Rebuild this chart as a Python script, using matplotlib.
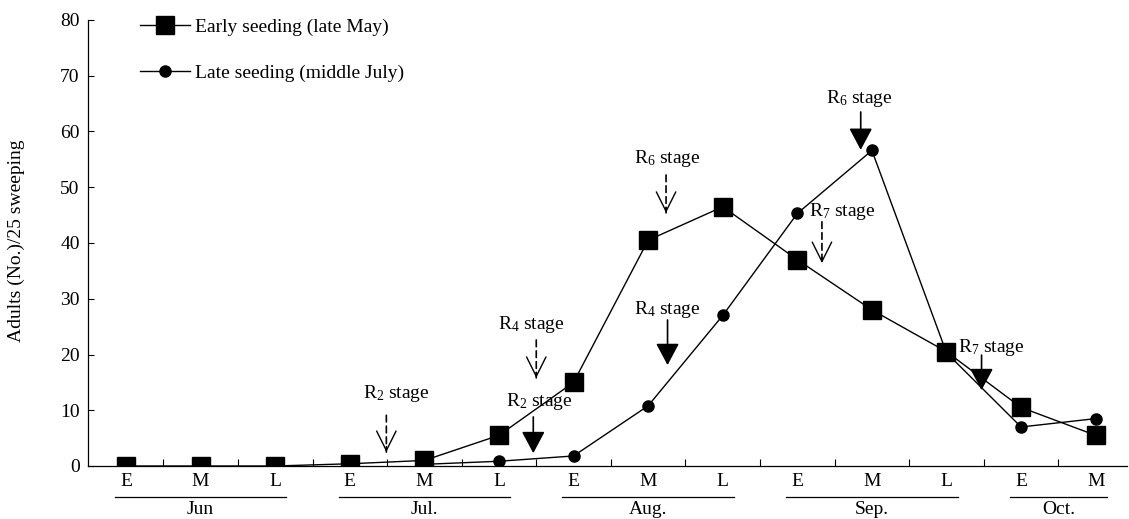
import matplotlib
matplotlib.use('Agg')
import matplotlib.pyplot as plt
import matplotlib.transforms as mtransforms

plt.rcParams['font.family'] = ['Liberation Serif', 'DejaVu Serif']
plt.rcParams['mathtext.fontset'] = 'custom'
plt.rcParams['mathtext.rm'] = 'Liberation Serif'
plt.rcParams['mathtext.it'] = 'Liberation Serif:italic'
plt.rcParams['mathtext.default'] = 'regular'

# ---------------- data ----------------
periods = ['E', 'M', 'L', 'E', 'M', 'L', 'E', 'M', 'L', 'E', 'M', 'L', 'E', 'M']
months = ['Jun', 'Jul.', 'Aug.', 'Sep.', 'Oct.']
month_first = [0, 3, 6, 9, 12]
month_last = [2, 5, 8, 11, 13]

early_label = 'Early seeding (late May)'
early_x = list(range(14))
early_y = [0, 0, 0, 0.4, 1.0, 5.5, 15.0, 40.5, 46.5, 37.0, 28.0, 20.5, 10.5, 5.5]

late_label = 'Late seeding (middle July)'
late_x = [4, 5, 6, 7, 8, 9, 10, 11, 12, 13]
late_y = [0.3, 0.85, 1.8, 10.8, 27.0, 45.3, 56.6, 20.3, 7.0, 8.5]

# growth stage annotations
stage_sub = ['2', '2', '4', '4', '6', '6', '7', '7']
stage_solid = [False, True, False, True, False, True, False, True]
stage_x = [3.49, 5.46, 5.50, 7.26, 7.24, 9.85, 9.33, 11.47]
stage_text_x = [3.63, 5.54, 5.43, 7.26, 7.26, 9.83, 9.60, 11.60]
stage_text_y = [13.0, 11.5, 25.3, 28.0, 55.2, 66.0, 45.6, 21.2]
stage_top = [9.1, 8.8, 22.6, 26.2, 52.2, 63.5, 43.8, 19.9]
stage_tip = [2.5, 2.3, 15.8, 18.1, 45.4, 56.7, 36.4, 13.6]

FS = 14

# ---------------- figure ----------------
W, H = 1129, 519
fig = plt.figure(figsize=(W / 100, H / 100), dpi=100)
ax = fig.add_axes([88 / W, 1 - 466 / H, (1127 - 88) / W, (466 - 20) / H])

l1, = ax.plot(early_x, early_y, color='black', lw=1.0, marker='s', ms=12.5,
              mfc='black', mec='black', label=early_label, zorder=3)
l2, = ax.plot(late_x, late_y, color='black', lw=1.0, marker='o', ms=8,
              mfc='black', mec='black', label=late_label, zorder=3)

ax.set_xlim(-0.51, 13.42)
ax.set_ylim(0, 80)
ax.set_yticks(range(0, 81, 10))
ax.tick_params(axis='y', direction='in', length=4, width=0.8, labelsize=FS, pad=6)
ax.set_xticks(early_x)
ax.set_xticklabels(periods, fontsize=FS)
ax.tick_params(axis='x', which='major', length=0, pad=5)
ax.set_xticks([i + 0.5 for i in range(13)], minor=True)
ax.tick_params(axis='x', which='minor', direction='in', length=5, width=0.8)
for s in ['top', 'right']:
    ax.spines[s].set_visible(False)
for s in ['left', 'bottom']:
    ax.spines[s].set_linewidth(0.9)

ax.set_ylabel('Adults (No.)/25 sweeping', fontsize=FS)
ax.yaxis.set_label_coords(-0.0606, 0.506)

# month group underlines and labels
trans = mtransforms.blended_transform_factory(ax.transData, ax.transAxes)
for name, a, b in zip(months, month_first, month_last):
    ax.plot([a - 0.15, b + 0.15], [-0.0695, -0.0695], transform=trans,
            color='black', lw=0.9, clip_on=False)
    ax.text((a + b) / 2, -0.098, name, transform=trans, ha='center', va='center',
            fontsize=FS)

# stage annotations
for sub, solid, x, tx, ty, top, tip in zip(stage_sub, stage_solid, stage_x,
                                            stage_text_x, stage_text_y,
                                            stage_top, stage_tip):
    ax.text(tx, ty, 'R$_{%s}$ stage' % sub, ha='center', va='center', fontsize=FS,
            zorder=5)
    if solid:
        ax.annotate('', xy=(x, tip), xytext=(x, top),
                    arrowprops=dict(arrowstyle='-|>,head_length=1.35,head_width=0.72',
                                    color='black', lw=1.2, shrinkA=0, shrinkB=0,
                                    mutation_scale=10), zorder=4)
    else:
        ax.annotate('', xy=(x, tip), xytext=(x, top),
                    arrowprops=dict(arrowstyle='-', color='black', lw=1.2,
                                    linestyle=(0, (4, 2.5)), shrinkA=0, shrinkB=0),
                    zorder=4)
        ax.annotate('', xy=(x, tip), xytext=(x, tip + 1.0),
                    arrowprops=dict(arrowstyle='->,head_length=1.4,head_width=0.7',
                                    color='black', lw=1.0, shrinkA=0, shrinkB=0,
                                    mutation_scale=10), zorder=4)

ax.legend(handles=[l1, l2], loc='upper left',
          bbox_to_anchor=(140 / W, 1 - 18 / H), bbox_transform=fig.transFigure,
          frameon=False, fontsize=FS, handlelength=2.55, handletextpad=0.26,
          labelspacing=1.48, borderpad=0, borderaxespad=0, markerscale=1.0)

fig.savefig('out.png', dpi=100)
